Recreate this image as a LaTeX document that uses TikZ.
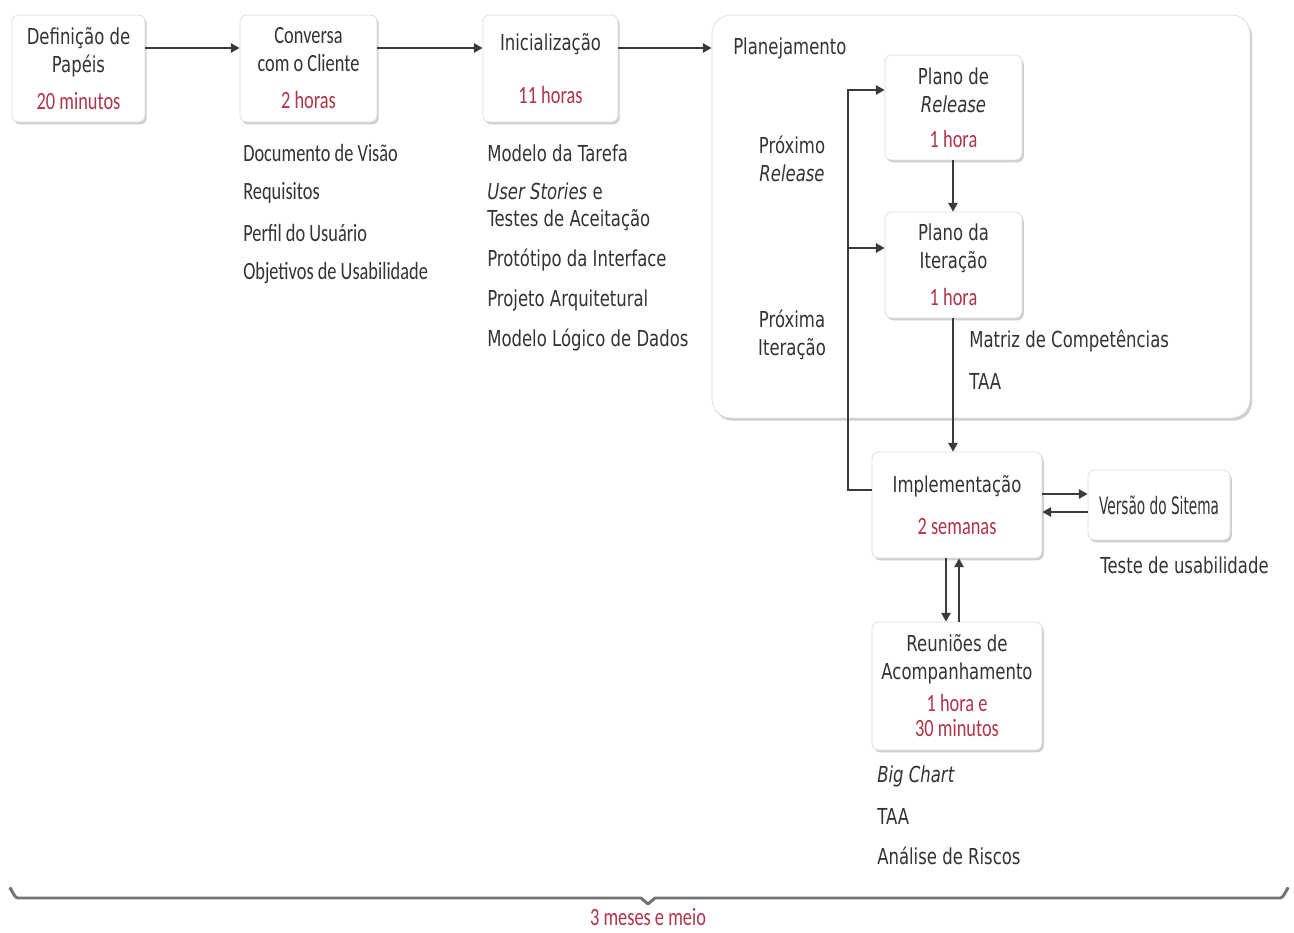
\documentclass[tikz,border=0pt]{standalone}
\usepackage{fontspec}
\setmainfont{DejaVu Sans}[FakeStretch=0.75]
\newfontfamily\nar{Carlito}[FakeStretch=0.74]
\newfontfamily\dvnarrow{DejaVu Sans}[FakeStretch=0.57]
\usetikzlibrary{shadows,arrows.meta}
\definecolor{tred}{HTML}{B0344A}
\definecolor{tdark}{HTML}{333333}
\definecolor{tline}{HTML}{3A3A3A}
\newcommand\dvs{\fontsize{16.5}{21}\selectfont}
\newcommand\crl{\nar\fontsize{18.6}{21}\selectfont}
\newcommand\rtxt[1]{{\crl\color{tred}#1}}
\tikzset{
  box/.style={rounded corners=5pt, draw=black!13, fill=white, line width=0.6pt,
    drop shadow={shadow xshift=1.3pt, shadow yshift=-1.8pt, fill=black!35, opacity=0.55},
    inner sep=0pt, align=center, text=tdark, font=\dvs},
  bigbox/.style={rounded corners=14pt, draw=black!13, fill=white, line width=0.6pt,
    drop shadow={shadow xshift=1.5pt, shadow yshift=-2pt, fill=black!35, opacity=0.55},
    inner sep=0pt},
  conn/.style={draw=tline, line width=1.1pt},
  arr/.style={conn, -{Triangle[length=6.5pt,width=7pt]}},
  lbl/.style={anchor=west, inner sep=0pt, text=tdark, font=\dvs, align=left},
  nlbl/.style={anchor=west, inner sep=0pt, text=tdark, font=\crl, align=left},
  brace/.style={draw=black!55, line width=2.2pt, line cap=round, line join=round}
}
\begin{document}
\begin{tikzpicture}[x=0.75pt,y=-0.75pt]
\useasboundingbox[fill=white] (0,0) rectangle (1294,932);

% big planning container
\node[bigbox, minimum width=538*0.75pt, minimum height=403*0.75pt] (plan) at (981,216.5) {};
\node[lbl] (planlbl) at (733,48) {Planejamento};

% boxes
\node[box, minimum width=133*0.75pt, minimum height=107*0.75pt] (b1) at (78.5,68.5)
  {Definição de\\Papéis\\[6.75pt]\rtxt{20 minutos}};
\node[box, font=\crl, minimum width=137*0.75pt, minimum height=107*0.75pt] (b2) at (308.5,68.5)
  {Conversa\\com o Cliente\\[6.75pt]\rtxt{2 horas}};
\node[box, minimum width=135*0.75pt, minimum height=107*0.75pt] (b3) at (550.5,68.5)
  {Inicialização\\[19pt]\rtxt{11 horas}};
\node[box, minimum width=137*0.75pt, minimum height=105*0.75pt] (rel) at (953.5,107.5)
  {Plano de\\\textit{Release}\\[5pt]\rtxt{1 hora}};
\node[box, minimum width=137*0.75pt, minimum height=106*0.75pt] (iter) at (953.5,265)
  {Plano da\\Iteração\\[6.75pt]\rtxt{1 hora}};
\node[box, minimum width=170*0.75pt, minimum height=106*0.75pt] (impl) at (957,505)
  {Implementação\\[10.5pt]\rtxt{2 semanas}};
\node[box, font=\dvnarrow\fontsize{18}{21}\selectfont, minimum width=142*0.75pt, minimum height=70*0.75pt] (ver) at (1159,505)
  {Versão do Sitema};
\node[box, minimum width=170*0.75pt, minimum height=128*0.75pt] (reun) at (957,686)
  {Reuniões de\\Acompanhamento\\[3pt]\rtxt{1 hora e}\\[-2.25pt]\rtxt{30 minutos}};

% lists
\node[nlbl] (l21) at (243,153) {Documento de Visão};
\node[nlbl] (l22) at (243,193) {Requisitos};
\node[nlbl] (l23) at (243,233) {Perfil do Usuário};
\node[nlbl] (l24) at (243,273) {Objetivos de Usabilidade};

\node[lbl] (l31) at (487,153) {Modelo da Tarefa};
\node[lbl, font=\fontsize{16.5}{20}\selectfont] (l32) at (487,206.5) {\textit{User Stories} e\\Testes de Aceitação};
\node[lbl] (l33) at (487,260) {Protótipo da Interface};
\node[lbl] (l34) at (487,300) {Projeto Arquitetural};
\node[lbl] (l35) at (487,340) {Modelo Lógico de Dados};

\node[lbl, anchor=center, align=center] (prel) at (792,159) {Próximo\\\textit{Release}};
\node[lbl, anchor=center, align=center] (pit) at (792,335) {Próxima\\Iteração};

\node[lbl] (mc) at (969,341) {Matriz de Competências};
\node[lbl] (taa1) at (969,381) {TAA};

\node[lbl] (tu) at (1100,565) {Teste de usabilidade};

\node[lbl] (bc) at (877,776) {\textit{Big Chart}};
\node[lbl] (taa2) at (877,816) {TAA};
\node[lbl] (ar) at (877,856) {Análise de Riscos};

% main flow
\draw[arr] (b1.east |- 0,48) -- (b2.west |- 0,48);
\draw[arr] (b2.east |- 0,48) -- (b3.west |- 0,48);
\draw[arr] (b3.east |- 0,48) -- (plan.west |- 0,48);
\draw[arr] (rel.south -| 953,0) -- (iter.north -| 953,0);
\draw[arr] (iter.south -| 953,0) -- (impl.north -| 953,0);

% feedback loop
\coordinate (fbb) at (848,490);
\coordinate (fbt) at (848,90);
\draw[arr] (impl.west |- fbb) -- (fbb) -- (fbt) -- (rel.west |- fbt);
\draw[arr] (fbt |- 0,248) -- (iter.west |- 0,248);

% implementation <-> version
\draw[arr] (impl.east |- 0,494) -- (ver.west |- 0,494);
\draw[arr] (ver.west |- 0,512) -- (impl.east |- 0,512);

% implementation <-> meetings
\draw[arr] (impl.south -| 946,0) -- (reun.north -| 946,0);
\draw[arr] (reun.north -| 959,0) -- (impl.south -| 959,0);

% bottom brace
\draw[brace] (10,889) to[out=90,in=180] (18,898) -- (641,898) -- (648,904) -- (655,898)
  -- (1280,898) to[out=0,in=90] (1288,889);
\node[inner sep=0pt, font=\crl, text=tred] (dur) at (648,917) {3 meses e meio};
\end{tikzpicture}
\end{document}
